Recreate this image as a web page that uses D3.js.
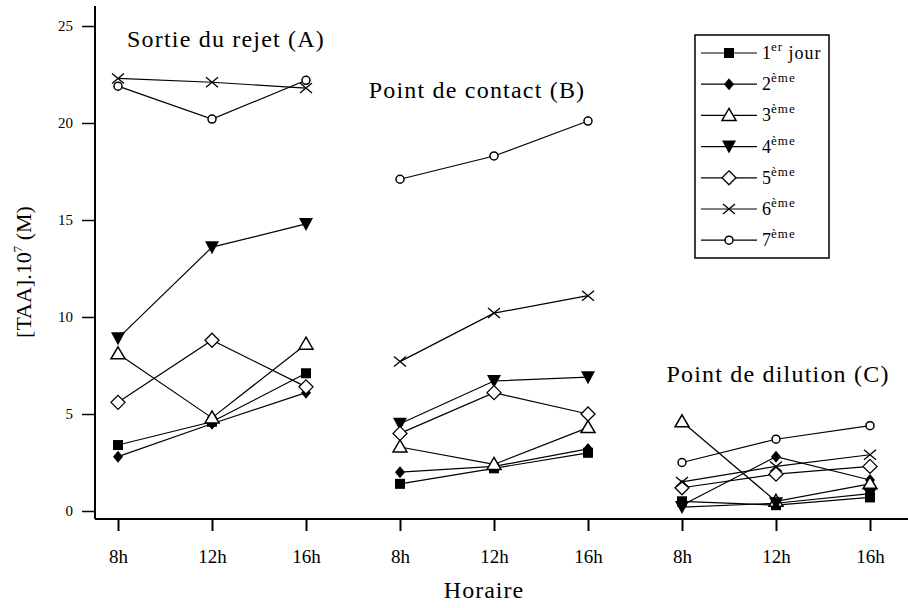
<!DOCTYPE html>
<html lang="fr">
<head>
<meta charset="UTF-8">
<title>TAA</title>
<script src="https://cdn.jsdelivr.net/npm/d3@7"></script>
<style>
  body { margin: 0; background: #fff; }
  svg text { font-family: "Times New Roman", Times, "Liberation Serif", "DejaVu Serif", "Noto Serif", serif; fill: #000; }
</style>
</head>
<body>
<svg id="chart" width="908" height="608"></svg>
<script>
// sites and sampling hours
const sites = ["A", "B", "C"]
const hours = ["8h", "12h", "16h"]
const siteTitles = ["Sortie du rejet (A)", "Point de contact (B)", "Point de dilution (C)"]

// [TAA].10^7 (M), per day: A 8h,12h,16h | B ... | C ...
const day1 = [3.4, 4.6, 7.1, 1.4, 2.2, 3.0, 0.5, 0.3, 0.7]
const day2 = [2.8, 4.5, 6.1, 2.0, 2.3, 3.2, 0.3, 2.8, 1.6]
const day3 = [8.1, 4.8, 8.6, 3.3, 2.4, 4.3, 4.6, 0.5, 1.4]
const day4 = [8.9, 13.6, 14.8, 4.5, 6.7, 6.9, 0.2, 0.4, 0.9]
const day5 = [5.6, 8.8, 6.4, 4.0, 6.1, 5.0, 1.2, 1.9, 2.3]
const day6 = [22.3, 22.1, 21.8, 7.7, 10.2, 11.1, 1.5, 2.3, 2.9]
const day7 = [21.9, 20.2, 22.2, 17.1, 18.3, 20.1, 2.5, 3.7, 4.4]

const dayNames = [["1", "er", " jour"], ["2", "ème", ""], ["3", "ème", ""], ["4", "ème", ""],
                  ["5", "ème", ""], ["6", "ème", ""], ["7", "ème", ""]]
const yTicks = [0, 5, 10, 15, 20, 25]

const series = [
  {name: dayNames[0], values: day1, marker: "square"},
  {name: dayNames[1], values: day2, marker: "diamondFilled"},
  {name: dayNames[2], values: day3, marker: "triangleUp"},
  {name: dayNames[3], values: day4, marker: "triangleDown"},
  {name: dayNames[4], values: day5, marker: "diamondOpen"},
  {name: dayNames[5], values: day6, marker: "cross"},
  {name: dayNames[6], values: day7, marker: "circle"}
]

const svg = d3.select("#chart")

const keys = []
sites.forEach(s => hours.forEach(h => keys.push(s + "-" + h)))

const x = d3.scalePoint().domain(keys).range([118, 870])
const y = d3.scaleLinear().domain([0, 25]).range([511, 26])
const axisY = 519

// y axis
svg.append("g")
  .attr("transform", "translate(95,0)")
  .call(d3.axisLeft(y).tickValues(yTicks).tickSize(13).tickPadding(9).tickSizeOuter(0))
  .call(g => g.select(".domain").remove())
  .call(g => g.selectAll("line").attr("stroke-width", 1.5))
  .call(g => g.selectAll("text").style("font-size", "15px"))
svg.append("line").attr("x1", 95).attr("x2", 95).attr("y1", 6).attr("y2", axisY)
  .attr("stroke", "#000").attr("stroke-width", 2)

// x axis
svg.append("g")
  .attr("transform", `translate(0,${axisY})`)
  .call(d3.axisBottom(x).tickSize(12).tickPadding(19).tickFormat(d => d.split("-")[1]))
  .call(g => g.select(".domain").remove())
  .call(g => g.selectAll("line").attr("stroke-width", 2))
  .call(g => g.selectAll("text").style("font-size", "19px"))
svg.append("line").attr("x1", 95).attr("x2", 908).attr("y1", axisY).attr("y2", axisY)
  .attr("stroke", "#000").attr("stroke-width", 2)

svg.append("text").attr("x", 484).attr("y", 598)
  .attr("text-anchor", "middle").style("font-size", "24px").style("letter-spacing", "1px").text("Horaire")

svg.append("text")
  .attr("transform", "translate(31,272) rotate(-90)")
  .attr("text-anchor", "middle").style("font-size", "22px")
  .call(t => {
    t.append("tspan").text("[TAA].10")
    t.append("tspan").attr("dy", -9).style("font-size", "13px").text("7")
    t.append("tspan").attr("dy", 9).text(" (M)")
  })

// site titles
const titlePos = [[226, 47], [477, 98], [778, 382]]
siteTitles.forEach((t, i) => {
  svg.append("text").attr("x", titlePos[i][0]).attr("y", titlePos[i][1])
    .attr("text-anchor", "middle").style("font-size", "24px").style("letter-spacing", "1.2px").text(t)
})

function drawMarker(g, type, cx, cy) {
  if (type === "square") {
    g.append("rect").attr("x", cx - 5).attr("y", cy - 5).attr("width", 10).attr("height", 10).attr("fill", "#000")
  } else if (type === "diamondFilled") {
    g.append("path").attr("d", `M${cx},${cy - 6}L${cx + 5},${cy}L${cx},${cy + 6}L${cx - 5},${cy}Z`).attr("fill", "#000")
  } else if (type === "triangleUp") {
    g.append("path").attr("d", `M${cx},${cy - 7}L${cx + 7},${cy + 5}L${cx - 7},${cy + 5}Z`)
      .attr("fill", "#fff").attr("stroke", "#000").attr("stroke-width", 1.5)
  } else if (type === "triangleDown") {
    g.append("path").attr("d", `M${cx - 7},${cy - 6}L${cx + 7},${cy - 6}L${cx},${cy + 7}Z`).attr("fill", "#000")
  } else if (type === "diamondOpen") {
    g.append("path").attr("d", `M${cx},${cy - 7}L${cx + 7},${cy}L${cx},${cy + 7}L${cx - 7},${cy}Z`)
      .attr("fill", "#fff").attr("stroke", "#000").attr("stroke-width", 1.3)
  } else if (type === "cross") {
    g.append("path").attr("d", `M${cx - 6},${cy - 5}L${cx + 6},${cy + 5}M${cx - 6},${cy + 5}L${cx + 6},${cy - 5}`)
      .attr("stroke", "#000").attr("stroke-width", 1.3)
  } else if (type === "circle") {
    g.append("circle").attr("cx", cx).attr("cy", cy).attr("r", 4)
      .attr("fill", "#fff").attr("stroke", "#000").attr("stroke-width", 1.5)
  }
}

const line = d3.line().x(d => x(d.key)).y(d => y(d.v))

const plot = svg.append("g")
series.forEach(s => {
  const g = plot.append("g")
  sites.forEach((site, si) => {
    const pts = hours.map((h, hi) => ({key: site + "-" + h, v: s.values[si * 3 + hi]}))
    g.append("path").attr("d", line(pts)).attr("fill", "none").attr("stroke", "#000").attr("stroke-width", 1.2)
  })
})
series.forEach(s => {
  const g = plot.append("g")
  keys.forEach((k, i) => drawMarker(g, s.marker, x(k), y(s.values[i])))
})

// legend
const legend = svg.append("g")
legend.append("rect").attr("x", 695).attr("y", 35).attr("width", 134).attr("height", 223)
  .attr("fill", "#fff").attr("stroke", "#000").attr("stroke-width", 1.5)
series.forEach((s, i) => {
  const ly = 53 + i * 31.2
  legend.append("line").attr("x1", 701).attr("x2", 757).attr("y1", ly).attr("y2", ly)
    .attr("stroke", "#000").attr("stroke-width", 1.2)
  drawMarker(legend, s.marker, 729, ly)
  const t = legend.append("text").attr("x", 762).attr("y", ly + 6).style("font-size", "18px")
  t.append("tspan").text(s.name[0])
  t.append("tspan").attr("dy", -8).style("font-size", "13px").style("letter-spacing", "1px").text(s.name[1])
  if (s.name[2]) t.append("tspan").attr("dy", 8).style("letter-spacing", "1px").text(s.name[2])
})
</script>
</body>
</html>
